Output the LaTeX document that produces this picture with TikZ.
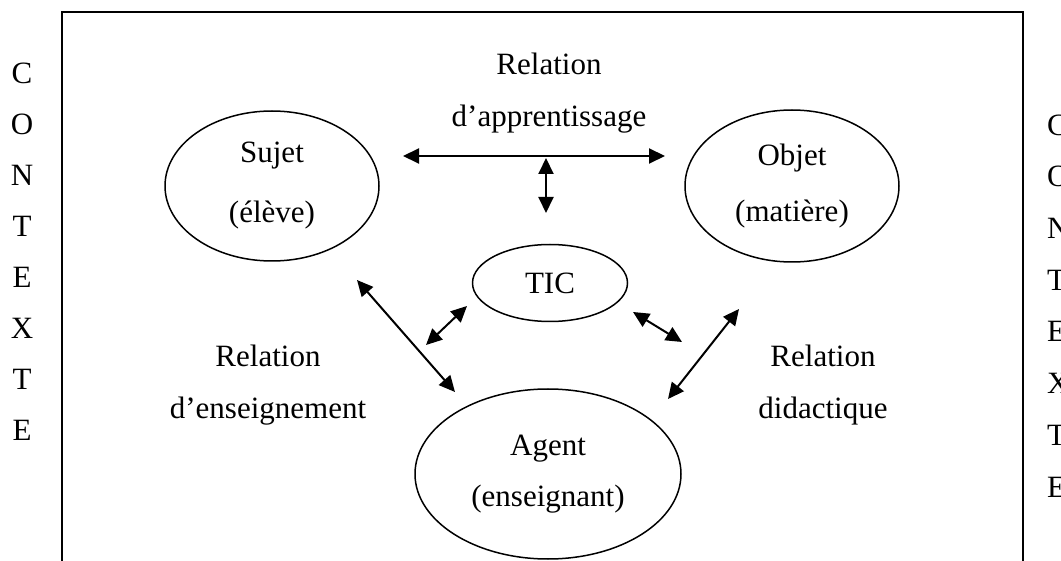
\documentclass[tikz,border=0pt]{standalone}
\usepackage{fontspec}
\setmainfont{Liberation Serif}
\usetikzlibrary{shapes.geometric}
\usetikzlibrary{arrows.meta}

\begin{document}
\begin{tikzpicture}[
  x=1pt, y=-1pt,
  every node/.style={font=\fontsize{31}{56}\selectfont},
  pole/.style={
    draw,
    ellipse,
    line width=1.5pt,
    inner sep=0pt,
    align=center
  },
  relabel/.style={
    align=center,
    inner sep=0pt,
    font=\fontsize{31}{52}\selectfont
  },
  letter/.style={inner sep=0pt},
  link/.style={
    line width=2pt,
    {Triangle[length=16pt,width=15pt]}-{Triangle[length=16pt,width=15pt]}
  }
]
\useasboundingbox (0,0) rectangle (1061,561);

% cadre
\draw[line width=1.5pt] (62,575) -- (62,12) -- (1023,12) -- (1023,575);

% contexte, de chaque cote
\foreach \l [count=\i] in {C,O,N,T,E,X,T,E} {
  \node[letter] (left\i) at (22,{22+51*\i}) {\l};
  \node[letter,anchor=west] (right\i) at (1047,{73.3+51.7*\i}) {\l};
}

% les poles
\node[pole, minimum width=214pt, minimum height=150pt] (sujet) at (272,186) {Sujet\\[4pt](élève)};
\node[pole, minimum width=214pt, minimum height=152pt] (objet) at (792,186) {Objet\\(matière)};
\node[pole, minimum width=155pt, minimum height=77pt] (tic) at (550,283) {TIC};
\node[pole, minimum width=266pt, minimum height=170pt] (agent) at (548,474) {Agent\\[-5pt](enseignant)};

% les relations
\node[relabel] (apprent) at (549,93) {Relation\\d'apprentissage};
\node[relabel] (enseign) at (268,385) {Relation\\d'enseignement};
\node[relabel] (didact) at (823,385) {Relation\\didactique};

% fleches
\coordinate (hL) at (403,156);
\coordinate (hR) at (665,156);
\coordinate (vT) at (546,158);
\coordinate (vB) at (546,213);
\coordinate (sA) at (357,280);
\coordinate (aS) at (455,392);
\coordinate (tL) at (467,306);
\coordinate (lT) at (426,345);
\coordinate (tR) at (633,312);
\coordinate (rT) at (682,342);
\coordinate (oA) at (739,309);
\coordinate (aO) at (668,399);

\draw[link] (hL) -- (hR);
\draw[link] (vT) -- (vB);
\draw[link] (sA) -- (aS);
\draw[link] (lT) -- (tL);
\draw[link] (tR) -- (rT);
\draw[link] (oA) -- (aO);
\end{tikzpicture}
\end{document}
